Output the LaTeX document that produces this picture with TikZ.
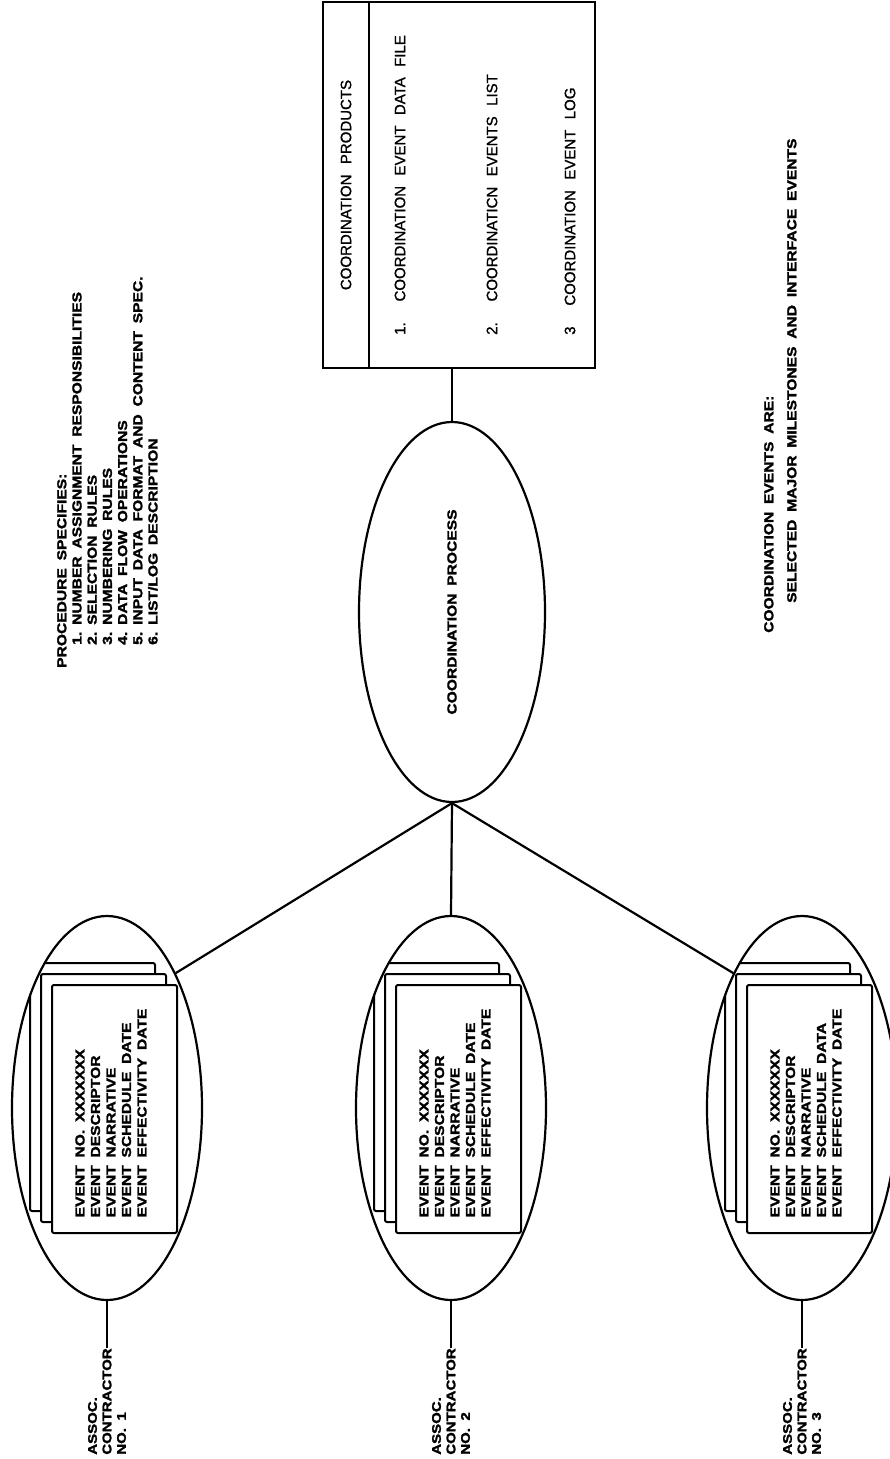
\documentclass[tikz,border=0pt]{standalone}
\usepackage{fontspec}
\setmainfont{Liberation Sans}
\newfontfamily\stencilfont{Liberation Sans}[FakeStretch=1.2, FakeBold=2, WordSpace=1.8]
\newfontfamily\boxfont{Liberation Sans}[FakeBold=1.2, WordSpace=2.5]
\usetikzlibrary{positioning, shapes.geometric, calc}

\tikzset{
  bubble/.style={draw, ellipse, line width=2.2pt, inner sep=0pt,
    minimum width=190pt, minimum height=384pt},
  card/.style={draw, fill=white, line width=2pt, rounded corners=2pt,
    inner sep=0pt, minimum width=125pt, minimum height=248pt},
  vtext/.style={rotate=90, inner sep=0pt, align=left,
    font=\stencilfont\bfseries\fontsize{13}{15.2}\selectfont},
  boxitem/.style={vtext, font=\boxfont\fontsize{15}{17}\selectfont},
  link/.style={line width=2.2pt},
}

\begin{document}
\begin{tikzpicture}[x=1pt, y=-1pt]
  \useasboundingbox (0,0) rectangle (890,1459);

  % products box
  \node[draw, line width=2.6pt, inner sep=0pt, minimum width=272pt, minimum height=366pt] (prod) at (459,185) {};
  \draw[link] ([xshift=47pt]prod.north west) -- ([xshift=47pt]prod.south west);
  \node[boxitem] (prodhead) at (346,185) {COORDINATION PRODUCTS};
  \node[boxitem, anchor=west] (item1) at (400,335) {1.\ \ COORDINATION EVENT DATA FILE};
  \node[boxitem, anchor=west] (item2) at (492,335) {2.\ \ COORDINATICN EVENTS LIST};
  \node[boxitem, anchor=west] (item3) at (570,335) {3\ \ COORDINATION EVENT LOG};

  % process
  \node[bubble, minimum width=186pt, minimum height=380pt] (proc) at (452,612) {};
  \node[vtext] (proctext) at (proc.center) {COORDINATION PROCESS};
  \draw[link] (proc.north) -- (proc.north |- prod.south);

  % notes
  \node[vtext, anchor=north west] (spec) at (57,668)
    {PROCEDURE SPECIFIES:\\
     \hspace*{23pt}\makebox[20pt][l]{1.}NUMBER ASSIGNMENT RESPONSIBILITIES\\
     \hspace*{23pt}\makebox[20pt][l]{2.}SELECTION RULES\\
     \hspace*{23pt}\makebox[20pt][l]{3.}NUMBERING RULES\\
     \hspace*{23pt}\makebox[20pt][l]{4.}DATA FLOW OPERATIONS\\
     \hspace*{23pt}\makebox[20pt][l]{5.}INPUT DATA FORMAT AND CONTENT SPEC.\\
     \hspace*{23pt}\makebox[20pt][l]{6.}LIST/LOG DESCRIPTION};
  \node[vtext, anchor=north west, font=\stencilfont\bfseries\fontsize{13}{23}\selectfont] (evnote) at (764,633)
    {COORDINATION EVENTS ARE:\\
     \hspace*{30pt}SELECTED MAJOR MILESTONES AND INTERFACE EVENTS};

  % contractors
  \foreach \i/\x/\sched in {1/107/DATE, 2/451/DATE, 3/802/DATA} {
    \path (\x,1108) node[bubble, draw=none] (c\i) {};
    \begin{scope}
      \clip (c\i.center) ellipse [x radius=95, y radius=192];
      \foreach \s in {22,11,0}
        \node[card] at ($(c\i.center)+(7.5-\s,1-\s)$) {};
    \end{scope}
    \draw[link] (c\i.center) ellipse [x radius=95, y radius=192];
    \node[vtext, font=\stencilfont\bfseries\fontsize{13}{15.5}\selectfont] (ev\i) at ($(c\i.center)+(4,5)$)
      {EVENT NO. XXXXXXX\\EVENT DESCRIPTOR\\EVENT NARRATIVE\\EVENT SCHEDULE \sched\\EVENT EFFECTIVITY DATE};
    \node[vtext, anchor=east, font=\stencilfont\bfseries\fontsize{12.5}{14.5}\selectfont] (lab\i) at ($(c\i.south)+(0,47)$)
      {ASSOC.\\CONTRACTOR\\NO. \i};
    \draw[link] (c\i.south) -- (lab\i.east);
  }
  \draw[link] (proc.south) -- (c1.63);
  \draw[link] (proc.south) -- (c2.north);
  \draw[link] (proc.south) -- (c3.117);
\end{tikzpicture}
\end{document}
